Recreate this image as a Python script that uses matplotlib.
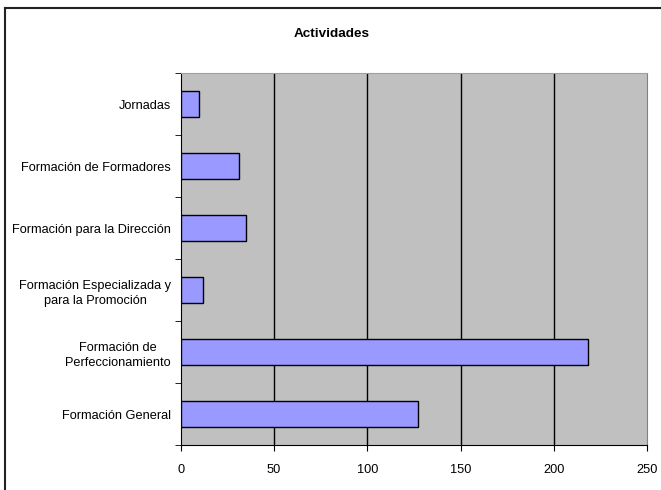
import matplotlib
matplotlib.use("Agg")
import matplotlib.pyplot as plt
from matplotlib.lines import Line2D

categories = ["Formación General", "Formación de\nPerfeccionamiento",
              "Formación Especializada y\npara la Promoción",
              "Formación para la Dirección", "Formación de Formadores", "Jornadas"]
values = [127, 218, 12, 35, 31, 10]
xticks = [0, 50, 100, 150, 200, 250]

plt.rcParams['font.family'] = ['Liberation Sans', 'DejaVu Sans']

W, H = 661, 490
fig = plt.figure(figsize=(W / 100, H / 100), dpi=100)
fig.patch.set_facecolor('white')
# figure border: top and left lines only
fig.lines.append(Line2D([5 / W, 5 / W], [0, 1 - 8 / H], transform=fig.transFigure,
                        color='#222222', linewidth=1.5))
fig.lines.append(Line2D([5 / W, 1], [1 - 8 / H, 1 - 8 / H], transform=fig.transFigure,
                        color='#222222', linewidth=1.5))

ax = fig.add_axes([180.7 / W, 1 - 445 / H, (647.3 - 180.7) / W, (445 - 73.3) / H])
ax.set_facecolor('#C0C0C0')
ypos = list(range(len(categories)))
ax.barh(ypos, values, height=0.42, color='#9999FF', edgecolor='black', linewidth=1.0, zorder=3)
ax.set_xlim(0, 250)
ax.set_ylim(-0.5, len(categories) - 0.5)
ax.set_xticks(xticks)
ax.set_xticklabels([str(t) for t in xticks], fontsize=9.2)
ax.set_yticks(ypos)
ax.set_yticklabels(categories, fontsize=9.2)
for lbl in ax.get_yticklabels():
    lbl.set_multialignment('center')
    lbl.set_linespacing(1.4)
ax.tick_params(axis='y', length=0, pad=7)
ax.set_yticks([i - 0.5 for i in range(len(categories) + 1)], minor=True)
ax.tick_params(axis='y', which='minor', length=4, direction='out', color='black')
ax.tick_params(axis='x', length=4, direction='out', color='black', pad=10)
for x in xticks[1:-1]:
    ax.axvline(x, color='black', linewidth=1.0, zorder=1)
ax.spines['left'].set_color('black')
ax.spines['bottom'].set_color('black')
ax.spines['top'].set_color('#A0A0A0')
ax.spines['right'].set_color('#808080')

fig.text(332 / W, 1 - 34 / H, "Actividades", fontsize=9.7, fontweight='bold',
         ha='center', va='center')

fig.savefig("out.png", dpi=100)
